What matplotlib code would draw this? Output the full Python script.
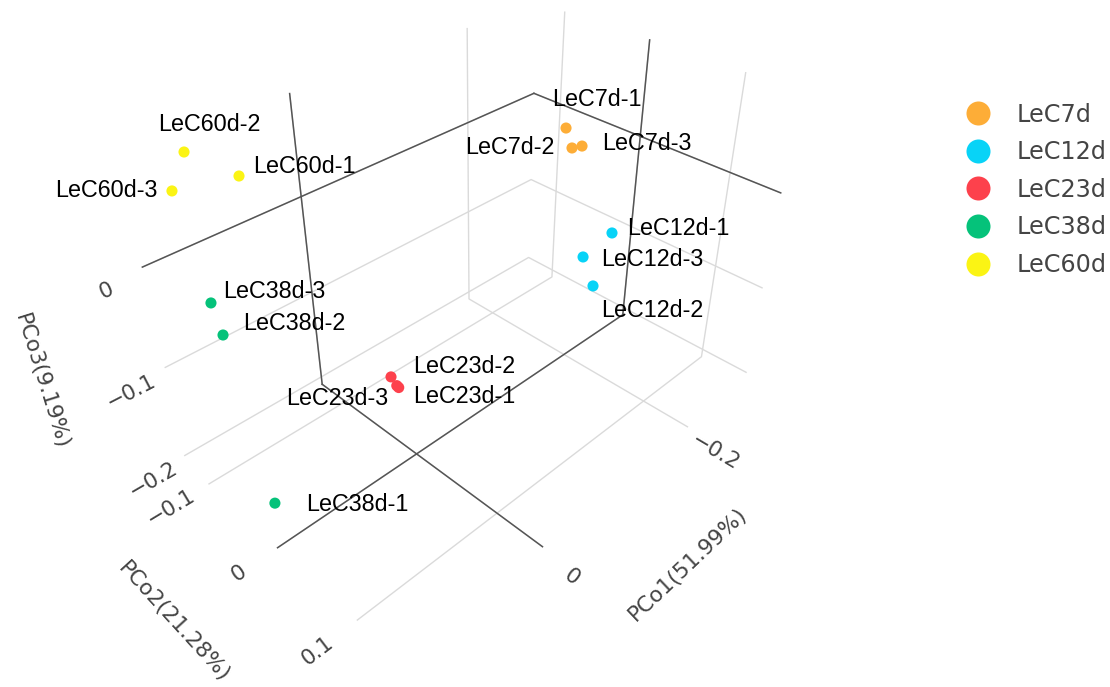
import math
import numpy as np
import matplotlib
matplotlib.use("Agg")
import matplotlib.pyplot as plt
from matplotlib.lines import Line2D
from matplotlib.transforms import ScaledTranslation

# ---------------- data (PCoA coordinates) ----------------
samples = ["LeC7d-1", "LeC7d-2", "LeC7d-3",
           "LeC12d-1", "LeC12d-2", "LeC12d-3",
           "LeC23d-1", "LeC23d-2", "LeC23d-3",
           "LeC38d-1", "LeC38d-2", "LeC38d-3",
           "LeC60d-1", "LeC60d-2", "LeC60d-3"]
sample_group = ["LeC7d"] * 3 + ["LeC12d"] * 3 + ["LeC23d"] * 3 + ["LeC38d"] * 3 + ["LeC60d"] * 3
pco1 = [-0.281, -0.281, -0.276,
        -0.069, -0.069, -0.069,
        0.105, 0.105, 0.105,
        0.129, 0.135, 0.139,
        0.090, 0.1055, 0.125]
pco2 = [-0.0798, -0.0708, -0.0543,
        0.1429, 0.1297, 0.1185,
        0.1062, 0.1007, 0.1081,
        -0.0336, -0.0601, -0.0622,
        -0.0792, -0.1257, -0.1175]
pco3 = [-0.0147, -0.0334, -0.0234,
        0.0559, 0.0036, 0.0242,
        -0.0025, 0.0018, -0.0030,
        -0.2004, -0.0342, -0.0033,
        0.0774, 0.0856, 0.0636]

groups = ["LeC7d", "LeC12d", "LeC23d", "LeC38d", "LeC60d"]
group_colors = ["#FDAD37", "#08D3F7", "#FD414C", "#05C27A", "#FBF414"]

x_title = "PCo1(51.99%)"
y_title = "PCo2(21.28%)"
z_title = "PCo3(9.19%)"
x_ticks = [-0.2, 0.0]
y_ticks = [-0.1, 0.0, 0.1]
z_ticks = [-0.2, -0.1, 0.0]
x_range = (-0.2945, 0.1521)
y_range = (-0.1356, 0.1513)
z_range = (-0.2094, 0.0952)

# label placement (pixels right / down from the marker) and alignment
label_off = {
    "LeC7d-1": (31, -29, "center"), "LeC7d-2": (-17, 0, "right"), "LeC7d-3": (20, -3, "left"),
    "LeC12d-1": (15, -4, "left"), "LeC12d-2": (8, 25, "left"), "LeC12d-3": (18, 3, "left"),
    "LeC23d-1": (16, 11, "left"), "LeC23d-2": (22, -10, "left"), "LeC23d-3": (-10, 11, "right"),
    "LeC38d-1": (31, 1, "left"), "LeC38d-2": (20, -12, "left"), "LeC38d-3": (12, -11, "left"),
    "LeC60d-1": (14, -10, "left"), "LeC60d-2": (25, -28, "center"), "LeC60d-3": (-14, 0, "right"),
}

# ---------------- figure / camera ----------------
W, H = 1110, 687
S = 709
elev, azim, focal, zoom, cx, cy = 34.9514, 44.8659, 0.2735, 0.9909, 469.44, 295.01

fig = plt.figure(figsize=(W / 100, H / 100), dpi=100)
ax = fig.add_axes([(cx - 0.5 * S) / W, ((H - cy) - 0.5 * S) / H, S / W, S / H], projection="3d")
ax.set_proj_type("persp", focal_length=focal)
ax.view_init(elev=elev, azim=azim)
ax.set_xlim(*x_range)
ax.set_ylim(*y_range)
ax.set_zlim(*z_range)
ax.set_box_aspect((x_range[1] - x_range[0], y_range[1] - y_range[0], z_range[1] - z_range[0]), zoom=zoom)
ax.apply_aspect()

for axis in (ax.xaxis, ax.yaxis, ax.zaxis):
    axis.set_pane_color((1, 1, 1, 0))
    axis.pane.set_edgecolor((1, 1, 1, 0))
    axis.line.set_color((1, 1, 1, 0))
    axis._axinfo["grid"]["color"] = "#dadada"
    axis._axinfo["grid"]["linewidth"] = 1.0
    axis._axinfo["tick"]["inward_factor"] = 0
    axis._axinfo["tick"]["outward_factor"] = 0
ax.set_xticks(x_ticks)
ax.set_yticks(y_ticks)
ax.set_zticks(z_ticks)
ax.set_xticklabels([""] * len(x_ticks))
ax.set_yticklabels([""] * len(y_ticks))
ax.set_zticklabels([""] * len(z_ticks))

x0, x1 = x_range
y0, y1 = y_range
z0, z1 = z_range
zl = dict(color="#555555", lw=1.1)
# zero lines on the back walls and floor
ax.plot([0, 0], [y0, y1], [z0, z0], **zl)
ax.plot([0, 0], [y0, y0], [z0, z1], **zl)
ax.plot([x0, x1], [0, 0], [z0, z0], **zl)
ax.plot([x0, x0], [0, 0], [z0, z1], **zl)
ax.plot([x0, x1], [y0, y0], [0, 0], **zl)
ax.plot([x0, x0], [y0, y1], [0, 0], **zl)

# points
for g, c in zip(groups, group_colors):
    idx = [i for i, sg in enumerate(sample_group) if sg == g]
    ax.scatter([pco1[i] for i in idx], [pco2[i] for i in idx], [pco3[i] for i in idx],
               s=64, c=c, edgecolors="none", depthshade=False)

# projection of 3D data points to the axes' 2D coordinates (library projection matrix)
M = ax.get_proj()
def proj(x, y, z):
    w = M @ np.array([x, y, z, 1.0])
    return w[0] / w[3], w[1] / w[3]

def angle_along(x, y, z, d):
    a = ax.transData.transform(proj(x, y, z))
    b = ax.transData.transform(proj(x + d[0], y + d[1], z + d[2]))
    ang = math.degrees(math.atan2(b[1] - a[1], b[0] - a[0]))
    while ang > 90:
        ang -= 180
    while ang <= -90:
        ang += 180
    return ang

# point labels
for i, name in enumerate(samples):
    dx, dy, ha = label_off[name]
    tr = ax.transData + ScaledTranslation(dx / 100, -dy / 100, fig.dpi_scale_trans)
    px, py = proj(pco1[i], pco2[i], pco3[i])
    ax.text2D(px, py, name, transform=tr, ha=ha, va="center",
              fontsize=16.8, family="Liberation Sans", color="black", clip_on=False)

# tick labels and axis titles
tick_kw = dict(fontsize=15.6, color="#444444", family="DejaVu Sans", ha="center", va="center",
               rotation_mode="anchor", clip_on=False)
def fmt(t):
    return f"{t:g}".replace("-", "\u2212")

def label3d(x, y, z, s, d):
    px, py = proj(x, y, z)
    ax.text2D(px, py, s, transform=ax.transData, rotation=angle_along(x, y, z, d), **tick_kw)

for t in x_ticks:
    label3d(t, y1 + 0.032, z0 - 0.01, fmt(t), (0, 0.01, 0))
for t in y_ticks:
    label3d(x1 + 0.037, t, z0, fmt(t), (0.01, 0, 0))
for t in z_ticks:
    label3d(x1 + 0.032, y0, t - 0.006, fmt(t), (0.01, 0, 0))
label3d(-0.062, y1 + 0.097, z0 + 0.008, x_title, (0.01, 0, 0))
label3d(x1 + 0.0997, 0.0066, z0 + 0.004, y_title, (0, 0.01, 0))
label3d(x1 + 0.0935, y0 - 0.01, -0.065, z_title, (0, 0, 0.01))

# legend
handles = [Line2D([], [], ls="none", marker="o", markersize=17.3, markerfacecolor=c, markeredgecolor="none")
           for c in group_colors]
fig.legend(handles, groups, loc="upper left", bbox_to_anchor=(945 / W, 1 - 93 / H), frameon=False,
           prop=dict(family="DejaVu Sans", size=17.2), labelcolor="#444444",
           labelspacing=0.57, handlelength=2.0, handletextpad=0.59, borderaxespad=0, borderpad=0.4)

fig.savefig("out.png", dpi=100)
